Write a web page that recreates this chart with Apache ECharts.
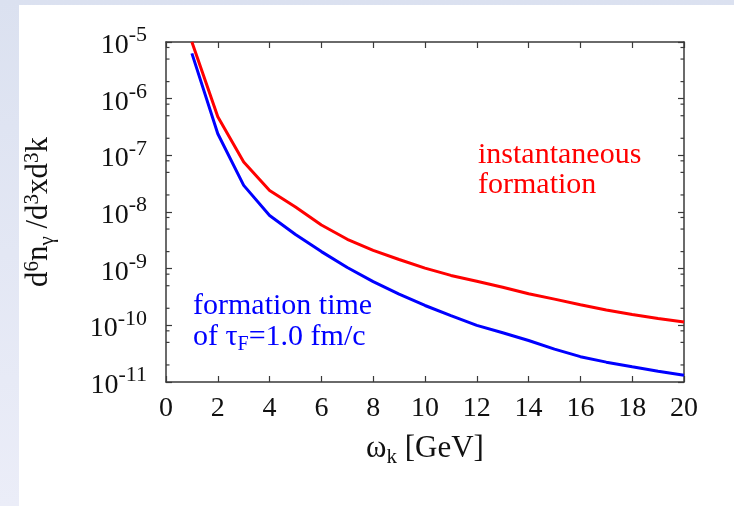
<!DOCTYPE html>
<html>
<head>
<meta charset="utf-8">
<style>
  html, body { margin: 0; padding: 0; }
  body {
    width: 734px; height: 506px; position: relative; overflow: hidden;
    background: linear-gradient(#dbe1f0, #ebedf8);
  }
  #sheet { position: absolute; left: 19px; top: 5px; right: 0; bottom: 0; background: #fff; }
  #chart { position: absolute; left: 0; top: 0; width: 734px; height: 506px; }
</style>
<script src="https://cdn.jsdelivr.net/npm/echarts@6/dist/echarts.min.js"></script>
</head>
<body>
<div id="sheet"></div>
<div id="chart"></div>
<script>
// photon energy omega_k [GeV]
const omega = [1, 2, 3, 4, 5, 6, 7, 8, 9, 10, 11, 12, 13, 14, 15, 16, 17, 18, 19, 20];

// d6n / d3x d3k
const instantaneous = [
  1.0e-5, 4.8e-7, 7.6e-8, 2.4e-8, 1.23e-8, 5.9e-9, 3.3e-9, 2.1e-9, 1.45e-9, 1.02e-9,
  7.6e-10, 6.0e-10, 4.7e-10, 3.6e-10, 2.9e-10, 2.3e-10, 1.86e-10, 1.55e-10, 1.32e-10, 1.15e-10,
];
const formationTime = [
  6.3e-6, 2.4e-7, 2.95e-8, 8.7e-9, 4.0e-9, 2.0e-9, 1.05e-9, 5.9e-10, 3.55e-10, 2.24e-10,
  1.48e-10, 1.0e-10, 7.4e-11, 5.4e-11, 3.8e-11, 2.8e-11, 2.24e-11, 1.86e-11, 1.55e-11, 1.32e-11,
];

const xMin = 0, xMax = 20, xStep = 2;
const yDecades = [-11, -10, -9, -8, -7, -6, -5];
const minorMultipliers = [2, 5, 8];

const FONT = "'Liberation Serif', 'DejaVu Serif', serif";
const AXIS_COLOR = "#3a3a3a";
const INK = "#111";

const minorTicks = [];
yDecades.slice(0, -1).forEach((e) => {
  minorMultipliers.forEach((m) => minorTicks.push([xMin, m * Math.pow(10, e)]));
});

const chart = echarts.init(document.getElementById("chart"), null, { renderer: "canvas" });

const yLabel = (v) => "{b|10}{s|" + Math.round(Math.log10(v)) + "}";

const baseX = {
  type: "value",
  min: xMin,
  max: xMax,
  interval: xStep,
  splitLine: { show: false },
  axisLine: { show: true, onZero: false, lineStyle: { color: AXIS_COLOR, width: 1.5 } },
  axisTick: { show: true, inside: true, length: 6, lineStyle: { color: AXIS_COLOR, width: 1.2 } },
};
const baseY = {
  type: "log",
  logBase: 10,
  min: Math.pow(10, yDecades[0]),
  max: Math.pow(10, yDecades[yDecades.length - 1]),
  interval: 1,
  splitLine: { show: false },
  axisLine: { show: true, onZero: false, lineStyle: { color: AXIS_COLOR, width: 1.5 } },
  axisTick: { show: true, inside: true, length: 6, lineStyle: { color: AXIS_COLOR, width: 1.2 } },
};

const option = {
  animation: false,
  backgroundColor: "transparent",
  grid: { left: 166, top: 42, right: 50, bottom: 124 },
  xAxis: [
    {
      ...baseX,
      position: "bottom",
      axisLabel: { color: INK, fontFamily: FONT, fontSize: 28, margin: 13 },
      name: "{w|ω}{k|k}{n| [GeV]}",
      nameLocation: "middle",
      nameGap: 48,
      nameTextStyle: {
        rich: {
          w: { fontFamily: FONT, fontSize: 31, color: INK },
          k: { fontFamily: FONT, fontSize: 21, color: INK, verticalAlign: "top", padding: [17, 0, 0, 0] },
          n: { fontFamily: FONT, fontSize: 31, color: INK },
        },
      },
    },
    { ...baseX, position: "top", axisLabel: { show: false } },
  ],
  yAxis: [
    {
      ...baseY,
      position: "left",
      axisLabel: {
        margin: 19,
        formatter: yLabel,
        rich: {
          b: { fontFamily: FONT, fontSize: 28, color: INK, lineHeight: 28, verticalAlign: "bottom", padding: [10, 0, 0, 0] },
          s: { fontFamily: FONT, fontSize: 22, color: INK, verticalAlign: "bottom", padding: [0, 0, 13, 0] },
        },
      },
      name: "{b|d}{s|6}{b|n}{u|γ}{b| /d}{s|3}{b|xd}{s|3}{b|k}",
      nameLocation: "middle",
      nameRotate: 90,
      nameGap: 108,
      nameTextStyle: {
        rich: {
          b: { fontFamily: FONT, fontSize: 31, color: INK },
          s: { fontFamily: FONT, fontSize: 21, color: INK, verticalAlign: "bottom", padding: [0, 0, 15, 0] },
          u: { fontFamily: FONT, fontSize: 21, color: INK, verticalAlign: "top", padding: [18, 0, 0, 0] },
        },
      },
    },
    { ...baseY, position: "right", axisLabel: { show: false } },
  ],
  graphic: [
    {
      type: "text",
      left: 478,
      top: 140,
      style: {
        text: "instantaneous\nformation",
        font: "30px " + FONT,
        fill: "#ff0000",
        lineHeight: 30,
      },
    },
    {
      type: "text",
      left: 193,
      top: 291,
      style: {
        text: "{a|formation time}\n{a|of τ}{f|F}{a|=1.0 fm/c}",
        rich: {
          a: { fontFamily: FONT, fontSize: 30, fill: "#0000ff", lineHeight: 29 },
          f: { fontFamily: FONT, fontSize: 20, fill: "#0000ff", verticalAlign: "top", padding: [14, 0, 0, 0] },
        },
      },
    },
  ],
  series: [
    {
      name: "instantaneous formation",
      type: "line",
      data: omega.map((x, i) => [x, instantaneous[i]]),
      showSymbol: false,
      lineStyle: { color: "#ff0000", width: 3 },
      itemStyle: { color: "#ff0000" },
    },
    {
      name: "formation time 1.0 fm/c",
      type: "line",
      data: omega.map((x, i) => [x, formationTime[i]]),
      showSymbol: false,
      lineStyle: { color: "#0000ff", width: 3 },
      itemStyle: { color: "#0000ff" },
    },
    {
      // minor log ticks on left and right frame
      type: "custom",
      silent: true,
      clip: false,
      data: minorTicks,
      encode: { x: 0, y: 1 },
      renderItem: (params, api) => {
        const v = api.value(1);
        const pl = api.coord([xMin, v]);
        const pr = api.coord([xMax, v]);
        const st = { stroke: AXIS_COLOR, lineWidth: 1.2 };
        return {
          type: "group",
          children: [
            { type: "line", shape: { x1: pl[0], y1: pl[1], x2: pl[0] + 3.5, y2: pl[1] }, style: st },
            { type: "line", shape: { x1: pr[0], y1: pr[1], x2: pr[0] - 3.5, y2: pr[1] }, style: st },
          ],
        };
      },
    },
  ],
};

chart.setOption(option);
</script>
</body>
</html>
